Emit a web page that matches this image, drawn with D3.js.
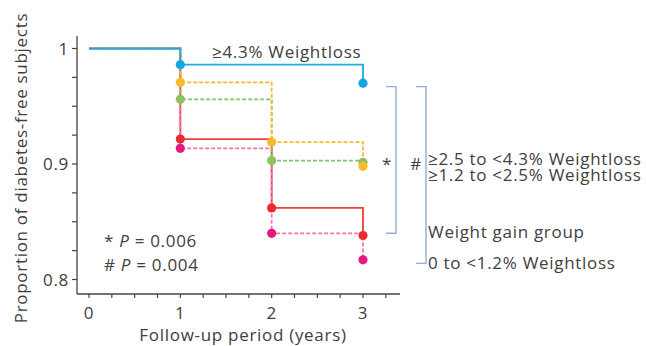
<!DOCTYPE html>
<html>
<head>
<meta charset="utf-8">
<script src="https://cdn.jsdelivr.net/npm/d3@7"></script>
<style>
  body { margin: 0; background: #fff; }
  text { font-family: "Open Sans", sans-serif; fill: #404040; letter-spacing: 0.7px; }
</style>
</head>
<body>
<div class="km"></div>
<script>
// follow-up years
const years = [0, 1, 2, 3]
// proportion of diabetes-free subjects per group
const groupNames = ['Weight gain group', '0 to <1.2% Weightloss', '≥1.2 to <2.5% Weightloss', '≥2.5 to <4.3% Weightloss', '≥4.3% Weightloss']
const weightGain = [1, 0.9216, 0.862, 0.838]
const loss0to12 = [1, 0.9136, 0.840, 0.817]
const loss12to25 = [1, 0.956, 0.903, 0.9015]
const loss25to43 = [1, 0.9707, 0.919, 0.898]
const loss43 = [1, 0.986, 0.986, 0.970]
const yTicks = [0.8, 0.9, 1]
const xTicks = [0, 1, 2, 3]
const pLabels = ['* ', '# ']
const pValues = ['0.006', '0.004']

const width = 646, height = 346
const fs = 17

const svg = d3.select('.km').append('svg')
    .attr('width', width)
    .attr('height', height)

const x = d3.scaleLinear().domain([0, 3]).range([89, 363])
const y = d3.scaleLinear().domain([0.8, 1]).range([279.5, 48.5])

// axes
svg.append('line')
    .attr('x1', 77).attr('x2', 77)
    .attr('y1', 36).attr('y2', 294)
    .attr('stroke', '#444').attr('stroke-width', 1.3)
svg.append('line')
    .attr('x1', 77).attr('x2', 400)
    .attr('y1', 294).attr('y2', 294)
    .attr('stroke', '#444').attr('stroke-width', 1.3)

d3.range(0.8, 1.0001, 0.025).forEach(t =>
    svg.append('line')
        .attr('x1', 72).attr('x2', 77)
        .attr('y1', y(t)).attr('y2', y(t))
        .attr('stroke', '#444').attr('stroke-width', 1.2)
)
yTicks.forEach(t =>
    svg.append('text')
        .attr('x', 69)
        .attr('y', y(t) + 6)
        .attr('text-anchor', 'end')
        .attr('font-size', fs)
        .text(t == 1 ? '1' : t.toFixed(1))
)
d3.range(0, 3.26, 0.25).forEach(t =>
    svg.append('line')
        .attr('x1', x(t)).attr('x2', x(t))
        .attr('y1', 294).attr('y2', 298)
        .attr('stroke', '#444').attr('stroke-width', 1.2)
)
xTicks.forEach(t =>
    svg.append('text')
        .attr('x', x(t))
        .attr('y', 319)
        .attr('text-anchor', 'middle')
        .attr('font-size', fs)
        .text(t)
)

svg.append('text')
    .attr('x', 243).attr('y', 341)
    .attr('text-anchor', 'middle')
    .attr('font-size', fs)
    .text('Follow-up period (years)')

svg.append('text')
    .attr('transform', 'translate(27,168) rotate(-90)')
    .attr('text-anchor', 'middle')
    .attr('font-size', fs)
    .text('Proportion of diabetes-free subjects')

// step curves, drawn bottom to top
const series = [
    {values: weightGain, line: '#ee3d3d', dot: '#ec2a32', dash: null},
    {values: loss0to12, line: '#f276ac', dot: '#e5197e', dash: '4,2'},
    {values: loss12to25, line: '#8dc165', dot: '#8dc165', dash: '4,2'},
    {values: loss25to43, line: '#f6bb2a', dot: '#f6bb2a', dash: '4,2'},
    {values: loss43, line: '#1eaae2', dot: '#12a6e3', dash: null}
]

const line = d3.line()
    .x(d => x(d.t))
    .y(d => y(d.v))
    .curve(d3.curveStepAfter)

series.forEach(s => {
    let pts = years.map((t, i) => ({t: t, v: s.values[i]}))
    svg.append('path')
        .datum(pts)
        .attr('d', line)
        .attr('fill', 'none')
        .attr('stroke', s.line)
        .attr('stroke-width', 1.8)
        .attr('stroke-dasharray', s.dash)
})

series.forEach(s => {
    let pts = years.map((t, i) => ({t: t, v: s.values[i]}))
        .filter((d, i) => i > 0 && d.v != s.values[i - 1])
    svg.selectAll(null)
        .data(pts)
        .join('circle')
        .attr('cx', d => x(d.t))
        .attr('cy', d => y(d.v))
        .attr('r', 4.6)
        .attr('fill', s.dot)
})

// group labels
svg.append('text').attr('x', 212).attr('y', 58).attr('font-size', fs).text(groupNames[4])
svg.append('text').attr('x', 428).attr('y', 165).attr('font-size', fs).text(groupNames[3])
svg.append('text').attr('x', 428).attr('y', 181).attr('font-size', fs).text(groupNames[2])
svg.append('text').attr('x', 428).attr('y', 238).attr('font-size', fs).text(groupNames[0])
svg.append('text').attr('x', 428).attr('y', 269).attr('font-size', fs).text(groupNames[1])

// significance brackets
function bracket(xr, y1, y2, mark, xm) {
    svg.append('path')
        .attr('d', `M${xr - 10},${y1}H${xr}V${y2}H${xr - 10}`)
        .attr('fill', 'none')
        .attr('stroke', '#8fb0d6')
        .attr('stroke-width', 1.4)
    svg.append('text')
        .attr('x', xm).attr('y', 170)
        .attr('text-anchor', 'middle')
        .attr('font-size', fs)
        .text(mark)
}
bracket(396, y(0.967), y(0.84), '*', 387)
bracket(426, y(0.967), y(0.814), '#', 416)

// p values
pValues.forEach((p, i) => {
    let t = svg.append('text')
        .attr('x', 104).attr('y', 247 + i * 24)
        .attr('font-size', fs)
    t.append('tspan').text(pLabels[i])
    t.append('tspan').attr('font-style', 'italic').text('P')
    t.append('tspan').text(' = ' + p)
})
</script>
</body>
</html>
